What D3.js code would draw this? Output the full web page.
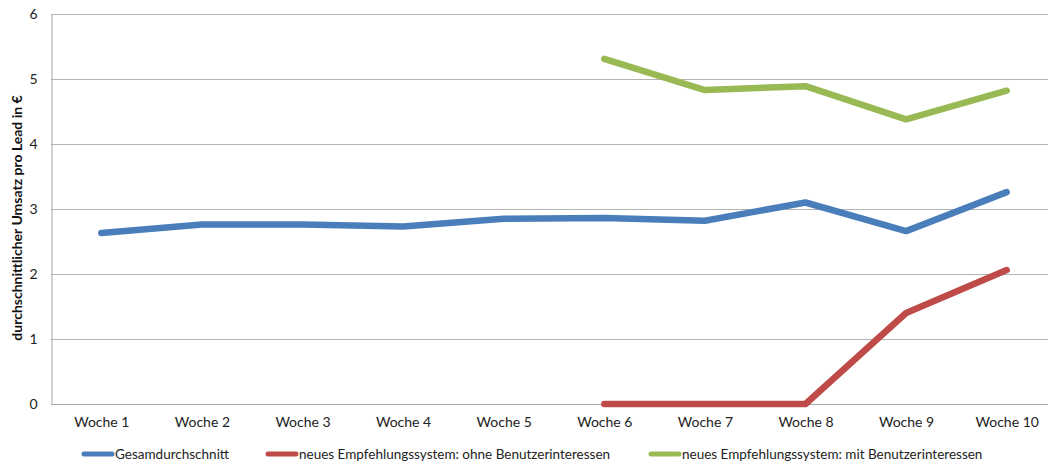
<!DOCTYPE html>
<html>
<head>
<meta charset="utf-8">
<script src="https://cdn.jsdelivr.net/npm/d3@7"></script>
<style>
  html, body { margin: 0; padding: 0; background: #fff; }
  svg { display: block; font-family: Lato, "Open Sans", sans-serif; }
</style>
</head>
<body>
<svg id="chart" width="1048" height="464"></svg>
<script>
// Weekly average revenue per lead (EUR)
const weeks = ["Woche 1","Woche 2","Woche 3","Woche 4","Woche 5","Woche 6","Woche 7","Woche 8","Woche 9","Woche 10"];
const gesamt = [2.63, 2.76, 2.76, 2.73, 2.85, 2.86, 2.82, 3.10, 2.66, 3.26];
const ohneInteressen = [null, null, null, null, null, 0, 0, 0, 1.40, 2.06];
const mitInteressen = [null, null, null, null, null, 5.31, 4.83, 4.89, 4.38, 4.82];
const yTicks = [0, 1, 2, 3, 4, 5, 6];
const seriesNames = ["Gesamdurchschnitt", "neues Empfehlungssystem: ohne Benutzerinteressen", "neues Empfehlungssystem: mit Benutzerinteressen"];
const colors = ["#4a7ebb", "#be4b48", "#98b954"];
const yTitle = "durchschnittlicher Umsatz pro Lead in €";

(function () {
  const svg = d3.select("#chart");
  const plotLeft = 51, plotRight = 1057, plotTop = 14, plotBottom = 404;

  const x = d3.scalePoint().domain(weeks).range([plotLeft, plotRight]).padding(0.5);
  const y = d3.scaleLinear().domain([0, 6]).range([plotBottom, plotTop]);

  // horizontal gridlines
  svg.append("g")
    .selectAll("line")
    .data(yTicks.filter(d => d > 0))
    .join("line")
    .attr("x1", plotLeft).attr("x2", plotRight)
    .attr("y1", d => y(d) + 0.5).attr("y2", d => y(d) + 0.5)
    .attr("stroke", "#b4b4b4").attr("stroke-width", 1);

  // y axis
  const yAxis = svg.append("g")
    .attr("transform", `translate(${plotLeft + 0.5},0.5)`)
    .call(d3.axisLeft(y).tickValues(yTicks).tickFormat(d3.format("d")).tickSize(0).tickPadding(14));
  yAxis.select(".domain").attr("stroke", "#a6a6a6");
  yAxis.selectAll("text").attr("font-size", 14).attr("fill", "#222")
    .attr("font-family", "Lato, sans-serif");

  // x axis
  const xAxis = svg.append("g")
    .attr("transform", `translate(0,${plotBottom + 0.5})`)
    .call(d3.axisBottom(x).tickSize(0).tickPadding(13));
  xAxis.select(".domain").attr("stroke", "#a6a6a6").attr("d", `M${plotLeft},0H${plotRight}`);
  xAxis.selectAll("text").attr("font-size", 14).attr("fill", "#222")
    .attr("font-family", "Lato, sans-serif");

  // y axis title
  svg.append("text")
    .attr("transform", `translate(22,218) rotate(-90)`)
    .attr("text-anchor", "middle")
    .attr("font-size", 14)
    .attr("font-weight", "bold")
    .attr("fill", "#111")
    .text(yTitle);

  // series lines
  const line = d3.line()
    .defined(d => d.v !== null)
    .x(d => x(d.w))
    .y(d => y(d.v));

  [gesamt, ohneInteressen, mitInteressen].forEach((vals, i) => {
    const pts = weeks.map((w, j) => ({ w, v: vals[j] }));
    svg.append("path")
      .datum(pts)
      .attr("fill", "none")
      .attr("stroke", colors[i])
      .attr("stroke-width", 6.5)
      .attr("stroke-linejoin", "round")
      .attr("stroke-linecap", "round")
      .attr("d", line);
  });

  // legend
  const legendItems = [
    { x0: 82, name: seriesNames[0], c: colors[0] },
    { x0: 266, name: seriesNames[1], c: colors[1] },
    { x0: 649, name: seriesNames[2], c: colors[2] }
  ];
  const lg = svg.append("g");
  legendItems.forEach(it => {
    lg.append("line")
      .attr("x1", it.x0 + 2).attr("x2", it.x0 + 30)
      .attr("y1", 454).attr("y2", 454)
      .attr("stroke", it.c).attr("stroke-width", 5)
      .attr("stroke-linecap", "round");
    lg.append("text")
      .attr("x", it.x0 + 33).attr("y", 459)
      .attr("font-size", 13.5).attr("fill", "#222")
      .text(it.name);
  });
})();
</script>
</body>
</html>
